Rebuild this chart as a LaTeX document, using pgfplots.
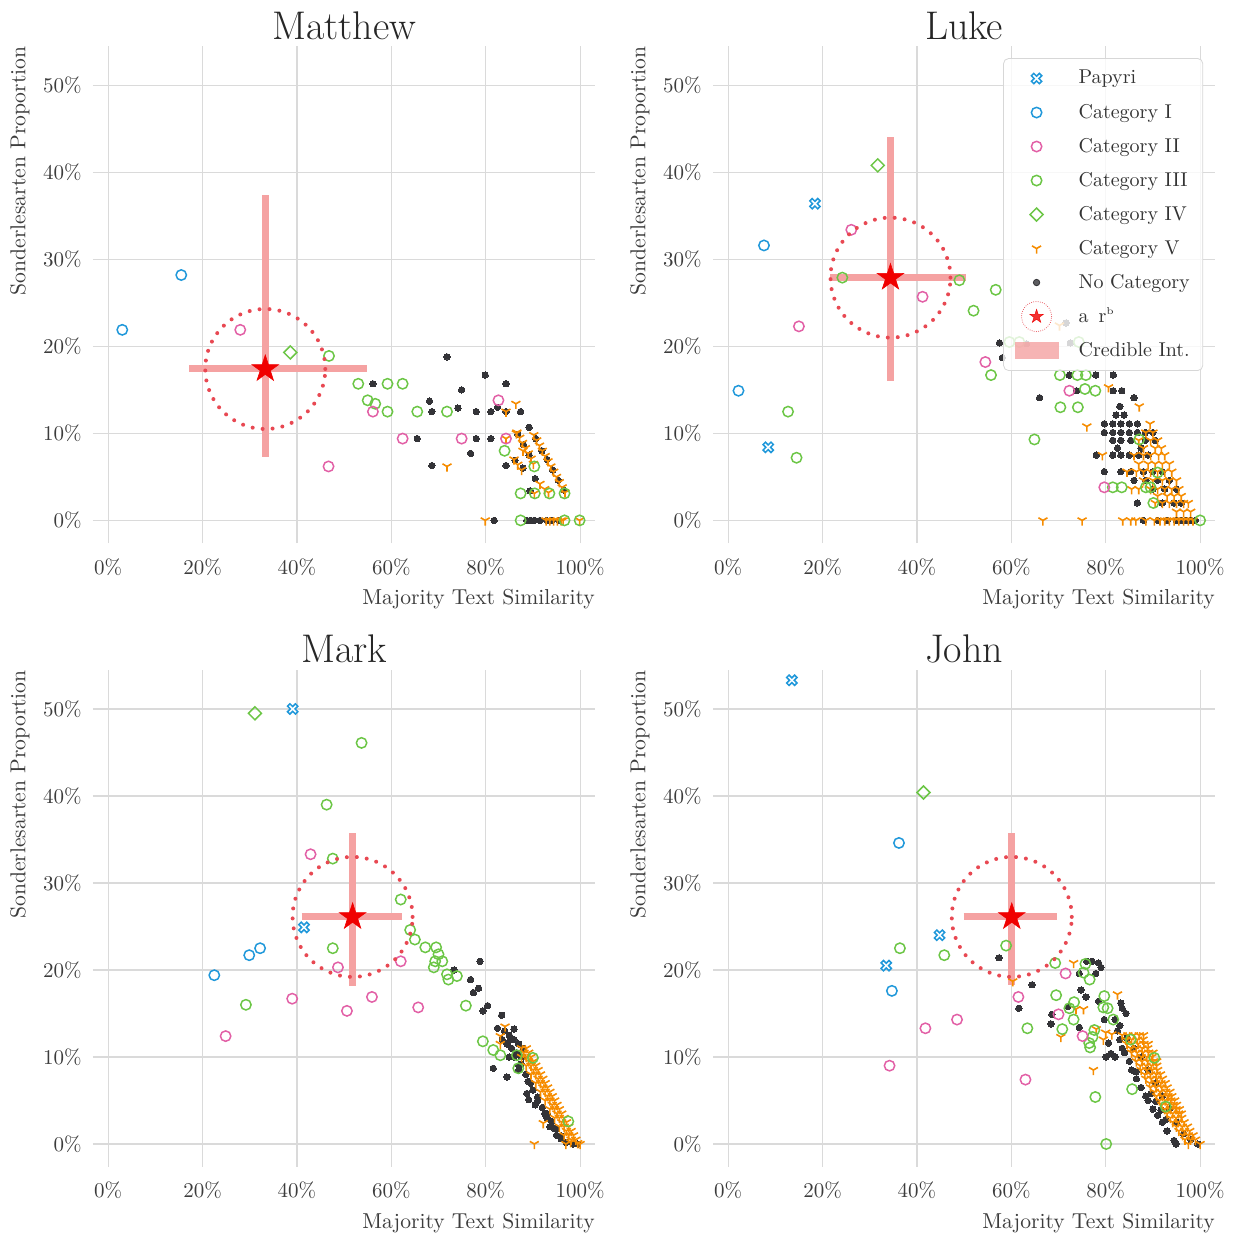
\documentclass[border=0pt]{standalone}
\usepackage{fontspec}
\usepackage{pgfplots}
\pgfplotsset{compat=1.18}
\usetikzlibrary{plotmarks}

\definecolor{cblue}{RGB}{32,152,218}
\definecolor{cpink}{RGB}{226,96,166}
\definecolor{cgreen}{RGB}{108,198,70}
\definecolor{corange}{RGB}{246,140,0}
\definecolor{cdark}{RGB}{52,52,56}
\definecolor{starred}{RGB}{240,0,0}
\definecolor{ringred}{RGB}{232,72,82}
\definecolor{intvc}{RGB}{245,162,162}
\definecolor{gridgray}{RGB}{218,218,218}
\definecolor{tickgray}{RGB}{60,60,60}
\definecolor{legdraw}{RGB}{215,215,215}

% hollow X (papyri)
\pgfdeclareplotmark{Xo}{%
  \pgfpathmoveto{\pgfqpoint{-0.919\pgfplotmarksize}{0.495\pgfplotmarksize}}%
  \pgfpathlineto{\pgfqpoint{-0.495\pgfplotmarksize}{0.919\pgfplotmarksize}}%
  \pgfpathlineto{\pgfqpoint{0pt}{0.424\pgfplotmarksize}}%
  \pgfpathlineto{\pgfqpoint{0.495\pgfplotmarksize}{0.919\pgfplotmarksize}}%
  \pgfpathlineto{\pgfqpoint{0.919\pgfplotmarksize}{0.495\pgfplotmarksize}}%
  \pgfpathlineto{\pgfqpoint{0.424\pgfplotmarksize}{0pt}}%
  \pgfpathlineto{\pgfqpoint{0.919\pgfplotmarksize}{-0.495\pgfplotmarksize}}%
  \pgfpathlineto{\pgfqpoint{0.495\pgfplotmarksize}{-0.919\pgfplotmarksize}}%
  \pgfpathlineto{\pgfqpoint{0pt}{-0.424\pgfplotmarksize}}%
  \pgfpathlineto{\pgfqpoint{-0.495\pgfplotmarksize}{-0.919\pgfplotmarksize}}%
  \pgfpathlineto{\pgfqpoint{-0.919\pgfplotmarksize}{-0.495\pgfplotmarksize}}%
  \pgfpathlineto{\pgfqpoint{-0.424\pgfplotmarksize}{0pt}}%
  \pgfpathclose
  \pgfusepathqfillstroke
}
% filled five-pointed star
\pgfdeclareplotmark{fstar}{%
  \pgfpathmoveto{\pgfqpoint{0pt}{\pgfplotmarksize}}%
  \pgfpathlineto{\pgfqpoint{-0.2245\pgfplotmarksize}{0.309\pgfplotmarksize}}%
  \pgfpathlineto{\pgfqpoint{-0.951\pgfplotmarksize}{0.309\pgfplotmarksize}}%
  \pgfpathlineto{\pgfqpoint{-0.363\pgfplotmarksize}{-0.118\pgfplotmarksize}}%
  \pgfpathlineto{\pgfqpoint{-0.588\pgfplotmarksize}{-0.809\pgfplotmarksize}}%
  \pgfpathlineto{\pgfqpoint{0pt}{-0.382\pgfplotmarksize}}%
  \pgfpathlineto{\pgfqpoint{0.588\pgfplotmarksize}{-0.809\pgfplotmarksize}}%
  \pgfpathlineto{\pgfqpoint{0.363\pgfplotmarksize}{-0.118\pgfplotmarksize}}%
  \pgfpathlineto{\pgfqpoint{0.951\pgfplotmarksize}{0.309\pgfplotmarksize}}%
  \pgfpathlineto{\pgfqpoint{0.2245\pgfplotmarksize}{0.309\pgfplotmarksize}}%
  \pgfpathclose
  \pgfusepathqfillstroke
}

\pgfplotsset{
  panel/.style={
    scale only axis, width=251.1pt, height=248.4pt,
    xmin=-3.2, xmax=103.2, ymin=-2.6, ymax=54.5,
    xtick={0,20,40,60,80,100}, xticklabels={0\%,20\%,40\%,60\%,80\%,100\%},
    ytick={0,10,20,30,40,50}, yticklabels={0\%,10\%,20\%,30\%,40\%,50\%},
    grid=major, major grid style={draw=gridgray, line width=0.6pt},
    axis line style={draw=none}, major tick length=0pt,
    tick label style={font=\fontsize{10.5}{12}\selectfont, text=tickgray},
    xticklabel style={inner sep=0pt, anchor=north, yshift=-7.5pt},
    yticklabel style={inner sep=0pt, anchor=east, xshift=-5.5pt},
    xlabel={Majority Text Similarity}, ylabel={Sonderlesarten Proportion},
    label style={font=\fontsize{10.8}{13}\selectfont, text=tickgray, inner sep=0pt},
    xlabel style={at={(axis description cs:1,-0.093)}, anchor=north east},
    ylabel style={at={(axis description cs:-0.1255,1)}, anchor=south east},
    every axis title shift=0pt,
    title style={at={(axis description cs:0.5,1)}, anchor=base, yshift=3.5pt,
      font=\fontsize{20}{24}\selectfont, text=black!85},
  },
  pap/.style={forget plot, only marks, mark=Xo, mark size=2.8pt, mark options={draw=cblue, fill=white, line width=0.75pt}},
  ci/.style={forget plot, only marks, mark=o, mark size=2.6pt, mark options={draw=cblue, line width=0.75pt}},
  cii/.style={forget plot, only marks, mark=o, mark size=2.6pt, mark options={draw=cpink, line width=0.75pt}},
  ciii/.style={forget plot, only marks, mark=o, mark size=2.6pt, mark options={draw=cgreen, line width=0.75pt}},
  civ/.style={forget plot, only marks, mark=square, mark size=2.3pt, mark options={draw=cgreen, line width=0.75pt, rotate=45}},
  cv/.style={forget plot, only marks, mark=Mercedes star flipped, mark size=2.6pt, mark options={draw=corange, line width=0.8pt}},
  nocat/.style={forget plot, only marks, mark=*, mark size=1.6pt, mark options={draw=cdark, fill=cdark, line width=0pt}},
  ring/.style={forget plot, only marks, mark=o, mark size=30pt, mark options={draw=ringred, line width=2pt, dash pattern=on 0pt off 5pt, line cap=round}},
  bigstar/.style={forget plot, only marks, mark=fstar, mark size=7pt, mark options={draw=starred, fill=starred, line width=0.3pt}},
  intv/.style={forget plot, no markers, line width=3.5pt, color=intvc},
}

% estimate: x, y, x low, x high, y low, y high
\newcommand{\intervals}[6]{%
  \addplot[intv] coordinates {(#3,#2) (#4,#2)};
  \addplot[intv] coordinates {(#1,#5) (#1,#6)};
}
\newcommand{\estimate}[2]{%
  \addplot[ring] coordinates {(#1,#2)};
  \addplot[bigstar] coordinates {(#1,#2)};
}
\newcommand{\legmark}[1]{\addlegendimage{legend image code/.code={%
  \path[draw=none, fill=none] (0pt,-8.5pt) rectangle (31pt,8.5pt);
  \draw[only marks,#1] plot coordinates {(13.5pt,0pt)};}}}

\begin{document}
\begin{tikzpicture}
\path[use as bounding box] (0pt,0pt) rectangle (617pt,-623.5pt);

% ---------------- Matthew ----------------
\begin{axis}[panel, at={(46.5pt,-271.5pt)}, anchor=south west, title={Matthew}]
\intervals{33.3}{17.4}{17.2}{54.8}{7.3}{37.4}
\addplot[nocat] table {
x y
71.8 18.8
79.9 16.7
84.3 15.7
74.9 15.0
68.1 13.7
68.6 12.5
74.1 12.9
78.0 12.5
81.1 12.5
82.5 13.0
84.3 12.5
87.4 12.5
89.2 10.7
65.5 9.4
78.0 9.4
81.1 9.4
76.8 7.7
68.6 6.3
84.3 6.3
81.8 0.0
56.1 15.7
86.2 6.9
87.9 6.0
90.5 4.8
91.9 8.0
89.2 7.5
89.4 3.4
86.8 9.9
88.0 8.7
90.6 9.4
93.0 7.0
94.2 5.8
95.4 4.6
96.5 3.5
88.7 0
89.5 0
90.3 0
91.5 0
92.9 0
94.0 0
95.5 0
};
\addplot[cv] table {
x y
71.8 6.2
86.4 13.4
84.3 12.5
79.9 0
84.3 9.4
86.5 10.0
87.9 8.0
90.3 3.1
99.9 0
90.2 9.8
90.8 9.2
91.4 8.6
92.0 8.0
92.6 7.4
93.2 6.8
93.8 6.2
94.4 5.6
95.0 5.0
95.6 4.4
96.2 3.8
96.8 3.2
86.6 10.1
87.2 9.5
87.8 8.9
88.4 8.3
89.0 7.7
89.6 7.1
90.1 6.5
86.0 7.0
86.8 6.4
87.6 5.8
91.5 4.2
92.5 3.6
93.3 3.2
92.8 0
93.6 0
94.4 0
95.2 0
96.0 0
96.4 0
};
\addplot[civ] coordinates {(38.6,19.3)};
\addplot[ciii] table {
x y
46.8 18.9
53.0 15.7
59.2 15.7
62.4 15.7
55.0 13.8
56.6 13.4
59.2 12.5
65.5 12.5
71.8 12.5
84.0 8.0
90.3 6.2
87.4 3.1
90.4 3.1
93.5 3.1
96.7 3.1
87.4 0
96.7 0
99.9 0
};
\addplot[cii] table {
x y
28.0 21.9
56.1 12.5
62.4 9.4
46.7 6.2
74.9 9.4
82.7 13.8
84.3 9.4
};
\addplot[ci] coordinates {(3.0,21.9) (15.5,28.2)};
\estimate{33.3}{17.4}
\end{axis}

% ---------------- Luke ----------------
\begin{axis}[panel, at={(356.5pt,-271.5pt)}, anchor=south west, title={Luke},
  legend cell align=left,
  legend style={at={(axis description cs:0.976,0.976)}, anchor=north east,
    draw=legdraw, fill=white, fill opacity=0.8, draw opacity=1, text opacity=1,
    rounded corners=2.5pt, inner xsep=3pt, inner ysep=1.5pt,
    font=\fontsize{10}{12}\selectfont, text=black!80,
    nodes={draw=none, fill=none, rounded corners=0pt, inner ysep=0pt, inner xsep=3.5pt}},
]
\legmark{mark=Xo, mark size=2.8pt, mark options={draw=cblue, fill=white, line width=0.75pt}}
\legmark{mark=o, mark size=2.6pt, mark options={draw=cblue, line width=0.75pt}}
\legmark{mark=o, mark size=2.6pt, mark options={draw=cpink, line width=0.75pt}}
\legmark{mark=o, mark size=2.6pt, mark options={draw=cgreen, line width=0.75pt}}
\legmark{mark=square, mark size=2.3pt, mark options={draw=cgreen, line width=0.75pt, rotate=45}}
\legmark{mark=Mercedes star flipped, mark size=2.6pt, mark options={draw=corange, line width=0.8pt}}
\legmark{mark=*, mark size=1.6pt, mark options={draw=cdark, fill=cdark}}
\addlegendimage{legend image code/.code={%
  \path[draw=none, fill=none] (0pt,-8.5pt) rectangle (31pt,8.5pt);
  \draw[ringred, line width=0.5pt, dash pattern=on 0pt off 1.1pt, line cap=round, rounded corners=0pt] (13.5pt,0pt) circle (7.5pt);
  \draw[only marks, mark=fstar, mark size=3.6pt, mark options={draw=starred, fill=starred, line width=0.2pt}] plot coordinates {(13.5pt,0pt)};}}
\addlegendimage{legend image code/.code={%
  \path[draw=none, fill=none] (0pt,-8.5pt) rectangle (31pt,8.5pt);
  \fill[intvc, draw=none, rounded corners=0pt] (2.5pt,-4.25pt) rectangle (24.5pt,4.25pt);}}
\legend{Papyri, Category I, Category II, Category III, Category IV, Category V, No Category, a\enspace r\textsuperscript{\tiny b}, Credible Int.}
\intervals{34.4}{27.9}{21.6}{50.5}{16.0}{44.1}
\addplot[nocat] table {
x y
57.5 20.4
58.1 18.7
63.2 20.3
71.6 22.7
72.5 20.4
66.0 14.1
73.8 14.9
72.3 16.7
77.9 16.7
81.6 16.7
81.6 14.9
83.4 14.9
86.0 14.1
83.0 13.1
82.2 12.1
83.9 12.1
79.7 11.1
81.5 11.1
83.2 11.1
85.0 11.1
86.7 11.1
79.7 10.1
81.5 10.1
83.2 10.1
85.0 10.1
86.7 10.1
88.4 10.1
90.0 10.1
81.5 9.2
83.2 9.2
85.3 9.2
88.4 9.2
90.5 9.2
78.0 7.5
81.5 7.5
83.2 7.5
85.0 7.5
87.0 7.5
89.0 7.5
79.7 5.6
83.2 5.6
85.3 5.6
88.0 5.6
90.0 5.6
92.0 5.6
86.0 4.6
88.5 4.6
91.0 4.6
90.0 3.6
92.5 3.6
86.7 2.0
92.0 2.0
94.5 2.0
96.0 2.0
88.0 0
91.0 0
93.0 0
95.0 0
96.0 0
97.0 0
98.0 0
99.0 0
82.5 8.3
87.5 8.3
93.5 4.6
95.0 3.6
};
\addplot[cv] table {
x y
66.7 0
75.0 0
83.6 0
85.3 0
86.4 0
88.5 0
90.3 0
80.6 15.3
87.1 13.1
76.0 10.8
70.2 22.4
79.3 7.5
89.4 11.1
88.5 10.1
90.0 10.1
87.0 9.2
89.5 9.2
91.0 9.2
88.0 8.3
90.5 8.3
91.8 8.3
86.0 7.5
88.0 7.5
89.5 7.5
91.2 7.5
92.5 7.5
87.0 6.5
89.0 6.5
90.5 6.5
92.0 6.5
93.5 6.5
84.5 5.6
86.5 5.6
88.0 5.6
89.5 5.6
91.0 5.6
92.5 5.6
94.0 5.6
88.0 4.6
90.0 4.6
92.0 4.6
93.5 4.6
95.0 4.6
85.5 3.6
87.0 3.6
89.5 3.6
91.0 3.6
92.5 3.6
94.0 3.6
95.5 3.6
91.0 2.8
93.0 2.8
94.5 2.8
96.0 2.8
90.5 2.0
92.0 2.0
93.5 2.0
95.0 2.0
96.5 2.0
97.5 2.0
95.0 1.0
96.5 1.0
98.0 1.0
91.5 0
92.5 0
93.5 0
94.5 0
95.5 0
96.5 0
97.5 0
98.5 0
};
\addplot[civ] coordinates {(31.7,40.8)};
\addplot[ciii] table {
x y
24.2 27.9
49.0 27.6
56.7 26.5
52.0 24.1
55.7 16.7
12.7 12.5
14.5 7.2
64.9 9.3
70.4 13.0
74.1 13.0
70.3 16.7
74.0 16.7
75.8 16.7
75.6 15.1
77.8 14.9
81.5 3.8
83.4 3.8
87.1 9.3
90.1 2.0
88.5 3.8
89.5 3.8
91.0 5.5
100 0
59.6 20.5
61.7 20.5
74.3 20.5
};
\addplot[cii] table {
x y
26.1 33.4
15.0 22.3
41.2 25.7
54.5 18.2
72.3 14.9
79.7 3.8
};
\addplot[ci] coordinates {(7.6,31.6) (2.2,14.9)};
\addplot[pap] coordinates {(18.4,36.4) (8.5,8.4)};
\estimate{34.4}{27.9}
\end{axis}

% ---------------- Mark ----------------
\begin{axis}[panel, at={(46.5pt,-583.3pt)}, anchor=south west, title={Mark}]
\intervals{51.8}{26.1}{41.0}{62.2}{18.2}{35.8}
\addplot[nocat] table {
x y
78.8 21.0
73.3 20.0
76.8 18.9
78.5 17.9
77.4 17.4
80.4 15.9
79.4 15.3
83.4 14.8
82.5 13.3
81.6 8.7
84.5 7.7
88.7 5.8
89.1 5.1
84.0 13.0
85.0 12.5
86.0 12.0
85.5 11.0
84.5 11.5
87.0 11.5
86.5 10.5
88.0 10.0
87.5 9.2
85.0 10.0
83.5 12.0
86.0 13.2
88.0 11.0
87.0 8.5
88.5 8.0
89.5 7.0
90.0 6.2
91.0 5.0
92.0 4.2
93.0 3.0
93.6 2.0
94.5 1.8
95.0 1.0
96.0 0.6
97.0 0.2
98.5 0
99.5 0
90.5 4.5
92.5 3.5
94.0 2.6
86.0 10.0
87.0 9.0
89.0 7.2
91.0 5.4
93.0 3.5
95.0 1.7
96.0 0.9
85.2 12.0
87.2 10.2
};
\addplot[cv] table {
x y
84.1 13.5
83.1 12.4
83.1 11.5
92.2 2.4
90.3 0
97.0 0
100 0
88.6 11.0
89.1 10.5
89.6 10.0
90.1 9.5
90.6 9.0
91.1 8.5
91.6 8.0
92.1 7.5
92.6 7.0
93.1 6.5
93.6 6.0
94.1 5.5
94.6 5.0
95.1 4.5
95.6 4.0
96.1 3.5
96.6 3.0
97.1 2.5
97.6 2.0
98.1 1.5
98.6 1.0
99.1 0.5
87.6 11.0
88.1 10.5
88.6 10.0
89.1 9.5
89.6 9.0
90.1 8.5
90.6 8.0
91.1 7.5
91.6 7.0
92.1 6.5
92.6 6.0
93.1 5.5
93.6 5.0
94.1 4.5
94.6 4.0
95.1 3.5
95.6 3.0
96.1 2.5
96.6 2.0
97.1 1.5
97.6 1.0
98.1 0.5
87.6 10.0
88.6 9.0
89.6 8.0
90.6 7.0
91.6 6.0
92.6 5.0
93.6 4.0
94.6 3.0
95.6 2.0
96.6 1.0
99.5 0.1
98.0 0.2
};
\addplot[civ] coordinates {(31.1,49.5)};
\addplot[ciii] table {
x y
53.7 46.1
46.3 39.0
47.6 32.8
47.6 22.5
29.2 16.0
62.0 28.1
64.0 24.6
65.0 23.5
67.2 22.6
69.5 22.6
70.0 21.8
69.3 21.0
69.0 20.3
70.8 21.0
71.8 19.5
72.1 18.9
73.9 19.3
75.8 15.9
79.4 11.8
81.6 10.8
83.1 10.2
86.6 10.2
86.9 8.7
90.0 9.9
97.5 2.6
};
\addplot[cii] table {
x y
24.9 12.4
39.0 16.7
42.9 33.3
48.7 20.3
50.6 15.3
55.9 16.9
62.0 21.0
65.7 15.7
};
\addplot[ci] coordinates {(22.5,19.4) (29.9,21.7) (32.2,22.5)};
\addplot[pap] coordinates {(39.1,50.0) (41.5,24.9)};
\estimate{51.8}{26.1}
\end{axis}

% ---------------- John ----------------
\begin{axis}[panel, at={(356.5pt,-583.3pt)}, anchor=south west, title={John}]
\intervals{60.1}{26.1}{49.9}{69.6}{18.3}{35.8}
\addplot[nocat] table {
x y
57.4 21.4
64.4 18.3
61.6 15.6
77.1 21.0
78.5 20.8
77.9 19.6
74.4 19.6
74.8 17.7
75.8 16.9
68.6 14.9
68.4 13.8
74.4 13.4
78.5 16.4
79.7 14.3
80.1 10.0
82.0 10.0
83.2 16.2
83.5 15.6
84.3 15.0
82.0 14.3
83.0 13.6
80.6 11.6
81.1 10.4
86.4 8.3
89.6 5.8
90.6 4.9
91.7 3.9
92.7 2.8
94.9 0
82.5 13.0
83.0 12.0
83.5 11.0
84.0 10.5
85.0 9.5
85.5 8.5
86.5 7.5
87.5 6.5
88.5 5.5
89.0 5.0
90.0 4.0
91.0 3.3
92.0 2.5
93.0 1.5
94.5 0.4
84.5 12.2
86.0 11.0
87.5 10.0
89.0 8.5
90.5 7.0
92.0 5.5
93.5 4.0
95.0 2.5
96.5 1.2
98.0 0.5
99.5 0
76.0 21.0
79.0 20.3
72.0 15.8
};
\addplot[cv] table {
x y
73.2 20.8
82.5 17.2
60.3 18.7
73.7 15.5
75.3 15.5
70.5 12.3
77.4 8.5
78.0 13.2
80.0 12.8
81.3 12.6
79.5 12.0
83.5 12.5
84.7 12.5
85.9 12.5
87.1 12.5
88.0 12.5
84.5 11.5
85.7 11.5
86.9 11.5
88.1 11.5
89.0 11.5
85.5 10.5
86.7 10.5
87.9 10.5
89.1 10.5
90.0 10.5
86.5 9.5
87.7 9.5
88.9 9.5
90.1 9.5
90.8 9.5
87.5 8.5
88.7 8.5
89.9 8.5
91.0 8.5
88.5 7.5
89.7 7.5
90.9 7.5
92.0 7.5
89.5 6.5
90.7 6.5
91.9 6.5
93.0 6.5
90.8 5.5
92.0 5.5
93.2 5.5
94.0 5.5
91.9 4.5
93.1 4.5
94.3 4.5
95.0 4.5
93.0 3.5
94.2 3.5
95.4 3.5
96.0 3.5
94.2 2.5
95.4 2.5
96.6 2.5
95.5 1.5
96.7 1.5
97.8 1.5
96.8 0.5
98.0 0.5
99.0 0.5
97.5 0
100 0
84.3 12.0
85.5 12.0
86.7 12.0
87.9 12.0
85.3 11.0
86.5 11.0
87.7 11.0
88.9 11.0
86.3 10.0
87.5 10.0
88.7 10.0
89.8 10.0
87.3 9.0
88.5 9.0
89.7 9.0
90.8 9.0
88.3 8.0
89.5 8.0
90.7 8.0
91.6 8.0
89.3 7.0
90.5 7.0
91.7 7.0
92.6 7.0
90.3 6.0
91.5 6.0
92.7 6.0
93.6 6.0
91.4 5.0
92.6 5.0
93.8 5.0
94.6 5.0
92.5 4.0
93.7 4.0
94.9 4.0
95.6 4.0
93.7 3.0
94.9 3.0
96.1 3.0
95.0 2.0
96.2 2.0
97.3 2.0
96.3 1.0
97.5 1.0
98.5 1.0
};
\addplot[civ] coordinates {(41.4,40.4)};
\addplot[ciii] table {
x y
36.4 22.5
45.8 21.7
58.9 22.8
69.3 20.8
69.5 17.1
63.4 13.3
70.8 13.2
73.3 16.3
72.3 15.6
73.2 14.3
75.7 20.7
75.3 19.7
76.6 18.9
79.7 17.0
79.5 15.7
80.4 15.6
81.6 14.3
77.6 13.1
77.2 12.3
76.5 11.6
76.7 11.1
85.3 12.0
90.3 9.9
85.6 6.3
77.8 5.4
80.1 0
92.7 4.3
};
\addplot[cii] table {
x y
34.2 9.0
41.8 13.3
48.5 14.3
61.5 16.9
63.0 7.4
71.5 19.6
70.0 14.9
75.1 12.4
};
\addplot[ci] coordinates {(36.2,34.6) (34.7,17.6)};
\addplot[pap] coordinates {(13.5,53.3) (44.8,24.0) (33.5,20.5)};
\estimate{60.1}{26.1}
\end{axis}
\end{tikzpicture}
\end{document}
